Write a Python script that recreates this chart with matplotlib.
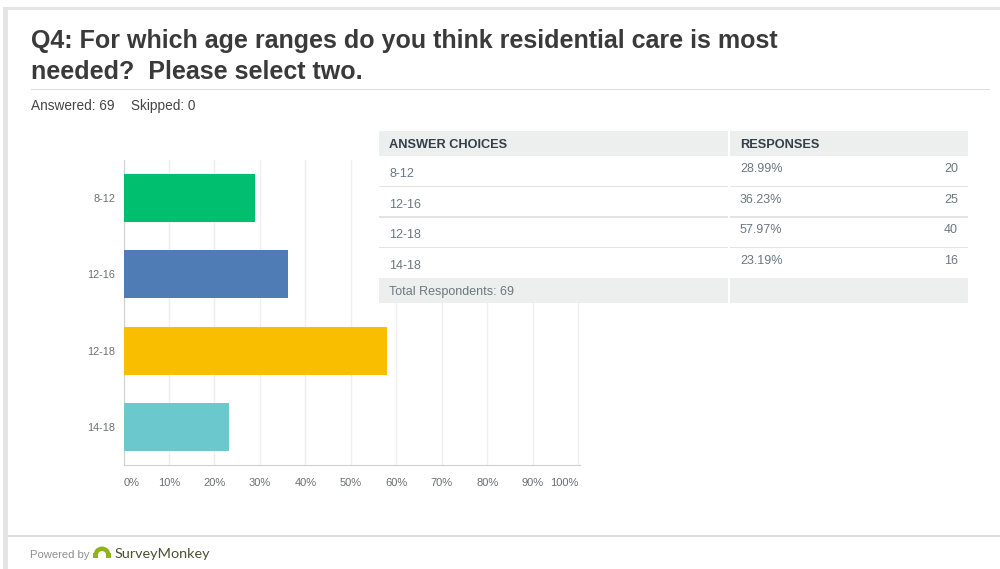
import matplotlib
matplotlib.use("Agg")
import matplotlib.pyplot as plt
from matplotlib.patches import Rectangle, Wedge

plt.rcParams['font.family'] = ['Liberation Sans', 'DejaVu Sans']

categories = ["8-12", "12-16", "12-18", "14-18"]
percents = [28.99, 36.23, 57.97, 23.19]
counts = [20, 25, 40, 16]
bar_colors = ["#00bf6f", "#507cb6", "#f9be00", "#6bc8cd"]
x_ticks = list(range(0, 101, 10))
title_lines = ["Q4: For which age ranges do you think residential care is most",
               "needed?  Please select two."]
answered = 69
skipped = 0

DARK = "#333e48"
GREY = "#6b787f"
TITLE = "#3a3a3a"
HEAD_BG = "#edeeee"
RULE = "#e2e3e3"

fig = plt.figure(figsize=(10, 5.69), dpi=100, facecolor="white")

# page furniture and table are laid out in pixels on a full-figure axes,
# stacked above the chart so the table hides the gridlines behind it
page = fig.add_axes([0, 0, 1, 1], zorder=2)
page.set_xlim(0, 1000)
page.set_ylim(569, 0)
page.axis("off")


def box(x0, y0, x1, y1, color):
    page.add_patch(Rectangle((x0, y0), x1 - x0, y1 - y0, fc=color, ec="none"))


box(3, 7, 1000, 10, "#e4e4e4")
box(3, 7, 8, 569, "#e4e4e4")
box(8, 535, 1000, 537, "#dcdcdc")
box(31, 89, 990, 90, "#dddddd")

for i, line in enumerate(title_lines):
    page.text(31, 41 + i * 31, line, fontsize=18.0, fontweight="bold",
              color=TITLE, va="center", ha="left")
page.text(31, 105.5, f"Answered: {answered}", fontsize=9.8, color="#444444", va="center")
page.text(131, 105.5, f"Skipped: {skipped}", fontsize=9.8, color="#444444", va="center")

# summary table
box(379, 131, 968, 303, "white")
box(379, 131, 728, 156, HEAD_BG)
box(730, 131, 968, 156, HEAD_BG)
box(379, 278, 728, 303, HEAD_BG)
box(730, 278, 968, 303, HEAD_BG)
page.text(389, 145, "ANSWER CHOICES", fontsize=9.2, fontweight="bold", color=DARK, va="center")
page.text(740, 145, "RESPONSES", fontsize=9.2, fontweight="bold", color=DARK, va="center")
for i, (cat, pct, n) in enumerate(zip(categories, percents, counts)):
    row_y = 156 + i * 30.7
    page.text(389, row_y + 18, cat, fontsize=9, color=GREY, va="center")
    page.text(740, row_y + 13, f"{pct:.2f}%", fontsize=9, color=GREY, va="center")
    page.text(958, row_y + 13, str(n), fontsize=9, color=GREY, va="center", ha="right")
    if i < 3:
        box(379, row_y + 29.5, 728, row_y + 31, RULE)
        box(730, row_y + 29.5, 968, row_y + 31, RULE)
page.text(389, 292, f"Total Respondents: {answered}", fontsize=9, color=GREY, va="center")

# footer with the logo mark
page.text(30, 555, "Powered by", fontsize=8.1, color="#8a8f92", va="center")
page.add_patch(Wedge((102, 555), 8.5, 180, 360, width=4.5, fc="#8fb31c", ec="none"))
page.add_patch(Rectangle((93, 553), 5, 5, fc="#8fb31c", ec="none"))
page.add_patch(Rectangle((106, 553), 5, 5, fc="#8fb31c", ec="none"))
page.text(115, 554, "SurveyMonkey", fontsize=10.4, color="#4b4f32", va="center",
          family=['Lato', 'DejaVu Sans'])

# bar chart; the axes run slightly past 100 so the baseline overshoots the last gridline
ax = fig.add_axes([123.5 / 1000, 1 - 465 / 569, (580 - 123.5) / 1000, (465 - 160) / 569],
                  zorder=1)
y_pos = list(range(len(categories)))
ax.barh(y_pos, percents, height=0.63, color=bar_colors, zorder=3)
ax.set_xlim(0, 100.4)
ax.set_ylim(3.5, -0.5)
ax.set_yticks(y_pos, categories)
ax.set_xticks(x_ticks, [f"{t}%" for t in x_ticks])
ax.tick_params(length=0)
ax.tick_params(axis="y", labelsize=7.8, labelcolor="#6b6f72", pad=6)
ax.tick_params(axis="x", labelsize=8, labelcolor="#6b6f72", pad=9.5)
ax.grid(axis="x", color="#eeeeee", linewidth=1, zorder=0)
for side in ["top", "right"]:
    ax.spines[side].set_visible(False)
ax.spines["left"].set_color("#d0d0d0")
ax.spines["bottom"].set_color("#d0d0d0")
labels = ax.get_xticklabels()
labels[0].set_ha("left")
labels[-1].set_ha("right")

fig.savefig("out.png", dpi=100)
